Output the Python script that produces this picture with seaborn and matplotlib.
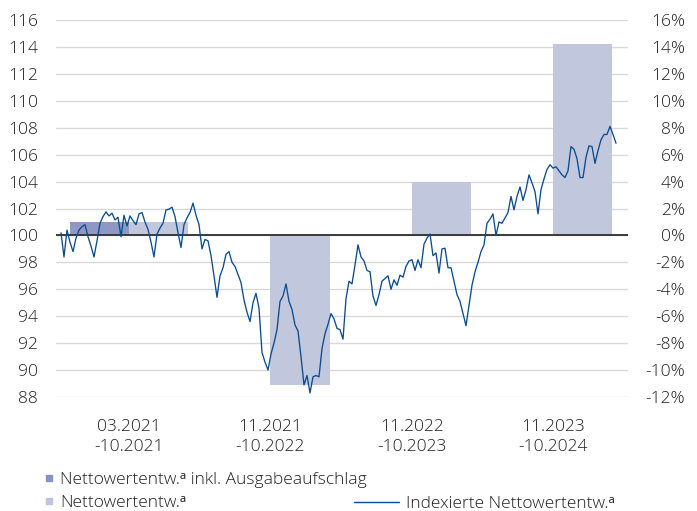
import numpy as np
import pandas as pd
import matplotlib
matplotlib.use("Agg")
import matplotlib.pyplot as plt
from matplotlib.lines import Line2D
import seaborn as sns

# ---------------- data ----------------
periods = ["03.2021\n-10.2021", "11.2021\n-10.2022", "11.2022\n-10.2023", "11.2023\n-10.2024"]
series_names = ["Nettowertentw.ᵃ inkl. Ausgabeaufschlag", "Nettowertentw.ᵃ"]
perf_incl_fee = [1.0, np.nan, np.nan, np.nan]   # %
perf_net = [1.0, -11.1, 4.0, 14.2]              # %

line_label = "Indexierte Nettowertentw.ᵃ"
index_values = [
    100.2, 98.4, 100.4, 99.5, 98.8, 99.8, 100.4, 100.65, 100.8, 99.9,
    99.2, 98.4, 99.6, 100.9, 101.4, 101.75, 101.45, 101.65, 101.15, 101.35,
    99.9, 101.5, 100.7, 101.45, 101.1, 100.8, 101.6, 101.7, 101.0, 100.45,
    99.5, 98.4, 100.1, 100.55, 100.9, 101.9, 101.95, 102.1, 101.4, 100.2,
    99.1, 100.8, 101.3, 101.7, 102.4, 101.5, 100.8, 99.0, 99.7, 99.6,
    98.5, 97.0, 95.4, 97.0, 97.6, 98.6, 98.8, 98.0, 97.7, 97.1,
    96.5, 95.2, 94.3, 93.6, 95.0, 95.7, 94.6, 91.3, 90.6, 90.0,
    91.2, 92.0, 93.0, 95.1, 95.5, 96.4, 95.1, 94.5, 93.35, 92.9,
    91.0, 88.9, 89.6, 88.3, 89.5, 89.6, 89.5, 91.6, 92.7, 93.4,
    94.2, 93.8, 93.1, 93.0, 92.3, 95.3, 96.6, 96.4, 97.8, 99.3,
    98.4, 98.1, 97.4, 97.3, 95.5, 94.8, 95.6, 96.6, 96.8, 97.0,
    96.0, 96.7, 96.3, 97.05, 96.9, 97.7, 98.1, 98.2, 97.4, 98.2,
    97.6, 99.35, 99.8, 100.1, 98.5, 98.7, 97.2, 99.0, 99.05, 97.6,
    97.6, 96.6, 95.6, 95.1, 94.2, 93.3, 94.8, 96.3, 97.3, 98.0,
    98.8, 99.3, 100.9, 101.2, 101.6, 100.0, 101.0, 100.9, 101.3, 101.7,
    102.9, 101.9, 102.9, 103.6, 102.6, 103.4, 104.5, 103.9, 103.25, 101.6,
    103.4, 104.2, 104.9, 105.25, 105.0, 105.1, 104.8, 104.5, 104.3, 104.8,
    106.6, 106.4, 105.7, 104.3, 104.3, 105.8, 106.65, 106.6, 105.35, 106.3,
    107.1, 107.5, 107.5, 108.1, 107.5, 106.85,
]
dates = pd.date_range("2021-03-19", periods=len(index_values), freq="7D")

left_ticks = list(range(88, 117, 2))
right_ticks = list(range(-12, 17, 2))

# ---------------- style ----------------
sns.set_theme(style="white")
plt.rcParams["font.family"] = ["Open Sans", "Noto Sans", "DejaVu Sans"]
plt.rcParams["font.weight"] = "light"
TXT = "#1f1f1f"
DARK = "#8593cb"
LIGHT = "#bcc4e2"
LINE = "#0b4c8f"
GRID = "#d9d9d9"
FS = 12.5

fig = plt.figure(figsize=(6.97, 5.11), dpi=100)
W, H = 697, 511
ax_l, ax_r, ax_t, ax_b = 56, 628, 20, 397
rect = [ax_l / W, 1 - ax_b / H, (ax_r - ax_l) / W, (ax_b - ax_t) / H]

# ---- bar axes (right scale, %) ----
axb = fig.add_axes(rect)
bars = pd.DataFrame({
    "Zeitraum": periods * 2,
    "Reihe": [series_names[0]] * 4 + [series_names[1]] * 4,
    "Wert": perf_incl_fee + perf_net,
})
sns.barplot(data=bars, x="Zeitraum", y="Wert", hue="Reihe", order=periods,
            hue_order=series_names, palette=[DARK, LIGHT], width=0.84, gap=0,
            ax=axb, legend=False, zorder=2, linewidth=0)
cat_px = 129.0
cat_step = 141.33
axb.set_xlim((ax_l - cat_px) / cat_step, (ax_r - cat_px) / cat_step)
axb.set_ylim(-12, 16)
axb.set_yticks(right_ticks)
axb.set_yticklabels([f"{t}%" for t in right_ticks])
axb.yaxis.tick_right()
axb.yaxis.grid(True, color=GRID, linewidth=1.0, zorder=0)
axb.set_axisbelow(True)
axb.axhline(0, color="#3a3a3a", linewidth=1.4, zorder=3)
axb.tick_params(axis="y", which="both", length=0, pad=41, labelsize=FS, labelcolor=TXT)
for lab in axb.get_yticklabels():
    lab.set_horizontalalignment("right")
axb.tick_params(axis="x", length=0, pad=16, labelsize=FS, labelcolor=TXT)
for lab in axb.get_xticklabels():
    lab.set_linespacing(1.35)
axb.set_xlabel("")
axb.set_ylabel("")
for s in axb.spines.values():
    s.set_visible(False)

# ---- line axes (left scale, index) ----
axl = fig.add_axes(rect)
axl.patch.set_alpha(0)
line_df = pd.DataFrame({"Datum": dates, "Index": index_values})
sns.lineplot(data=line_df, x="Datum", y="Index", color=LINE, linewidth=0.95, ax=axl)
step = pd.Timedelta(days=7)
axl.set_xlim(dates[0] - step * ((61 - ax_l) / 3.0), dates[0] + step * ((ax_r - 61) / 3.0))
axl.set_ylim(88, 116)
axl.set_yticks(left_ticks)
axl.set_yticklabels([str(t) for t in left_ticks])
axl.tick_params(axis="y", length=6, width=1, color=GRID, pad=7, labelsize=FS, labelcolor=TXT)
axl.xaxis.set_visible(False)
axl.set_ylabel("")
axl.grid(False)
for s in axl.spines.values():
    s.set_visible(False)

# ---- legend ----
h_dark = Line2D([], [], marker="s", ls="none", color=DARK, markersize=5)
h_light = Line2D([], [], marker="s", ls="none", color=LIGHT, markersize=5)
h_line = Line2D([], [], color=LINE, linewidth=1.0)
leg1 = fig.legend([h_dark, h_light], series_names, loc="upper left",
                  bbox_to_anchor=(45 / W, 1 - 472 / H), frameon=False,
                  handlelength=0.5, handletextpad=0.35, labelspacing=0.38,
                  borderpad=0, borderaxespad=0, fontsize=FS, labelcolor=TXT)
leg2 = fig.legend([h_line], [line_label], loc="upper left",
                  bbox_to_anchor=(354 / W, 1 - 496 / H), frameon=False,
                  handlelength=2.6, handletextpad=0.4,
                  borderpad=0, borderaxespad=0, fontsize=FS, labelcolor=TXT)

fig.savefig("out.png", dpi=100)
